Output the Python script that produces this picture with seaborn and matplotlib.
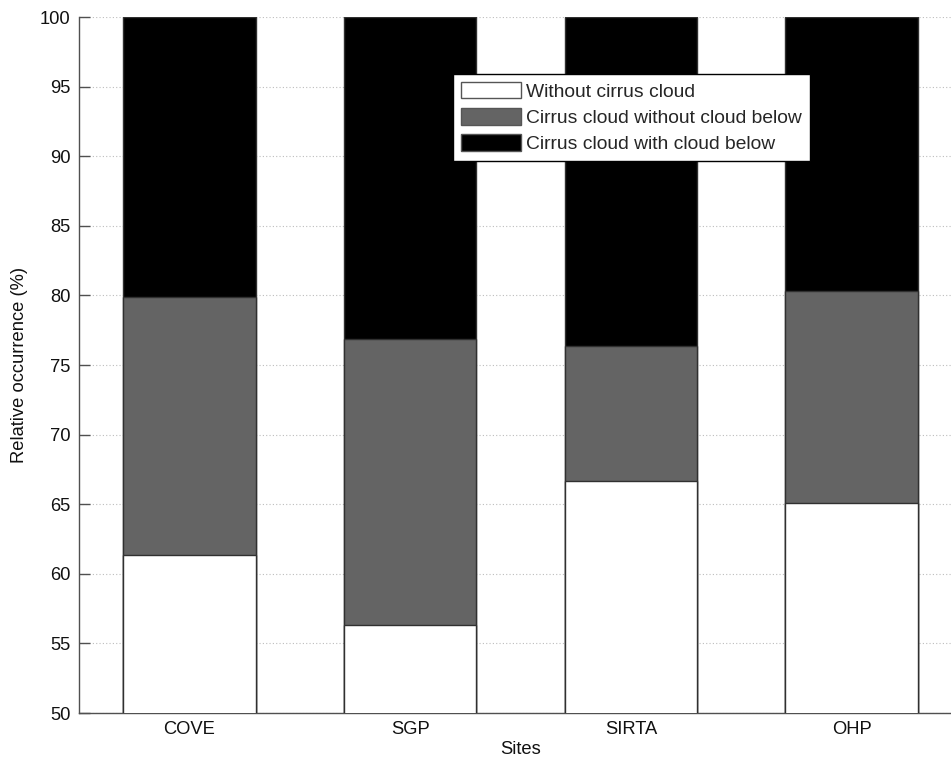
import matplotlib
matplotlib.use("Agg")
import matplotlib.pyplot as plt
import pandas as pd
import seaborn as sns

# values (%)
sites = ["COVE", "SGP", "SIRTA", "OHP"]
without_cirrus = [61.35, 56.3, 66.7, 65.1]
cirrus_no_below = [18.55, 20.55, 9.7, 15.2]
cirrus_with_below = [20.1, 23.15, 23.6, 19.7]

df = pd.DataFrame({
    "site": sites,
    "white": without_cirrus,
    "gray": cirrus_no_below,
    "black": cirrus_with_below,
})
df["lvl1"] = df["white"]
df["lvl2"] = df["white"] + df["gray"]
df["lvl3"] = df["lvl2"] + df["black"]

sns.set_theme(style="white")
plt.rcParams["font.family"] = ["Liberation Sans", "DejaVu Sans"]

fig = plt.figure(figsize=(9.51, 7.65), dpi=100)
ax = fig.add_axes([79 / 951, 52 / 765, 883 / 951, 696 / 765])

edge = "#303030"
fs = 13.2
sns.barplot(data=df, x="site", y="lvl3", color="black", width=0.6, ax=ax,
            edgecolor=edge, linewidth=1, saturation=1,
            label="Cirrus cloud with cloud below")
sns.barplot(data=df, x="site", y="lvl2", color="#646464", width=0.6, ax=ax,
            edgecolor=edge, linewidth=1, saturation=1,
            label="Cirrus cloud without cloud below")
sns.barplot(data=df, x="site", y="lvl1", color="white", width=0.6, ax=ax,
            edgecolor=edge, linewidth=1, saturation=1,
            label="Without cirrus cloud")
# bars sit on top of the bottom axis line, like the original
for p in ax.patches:
    p.set_zorder(3)

ax.set_ylim(50, 100)
ax.set_xlim(-0.5, 3.5)
ax.set_yticks(range(50, 101, 5))
ax.yaxis.grid(True, linestyle=(0, (1, 2)), color="#bdbdbd", linewidth=0.8)
ax.set_axisbelow(True)

for s in ["top", "right"]:
    ax.spines[s].set_visible(False)
for s in ["left", "bottom"]:
    ax.spines[s].set_color("#505050")
    ax.spines[s].set_linewidth(1)
    ax.spines[s].set_zorder(2)

ax.tick_params(axis="both", direction="in", length=8, width=1, color="#505050",
               labelsize=fs, labelcolor="#111111", left=True, bottom=True, pad=6)
ax.set_xlabel("Sites", fontsize=fs, color="#111111", labelpad=2)
ax.set_ylabel("Relative occurrence (%)", fontsize=fs, color="#111111", labelpad=9)

handles, labels = ax.get_legend_handles_labels()
leg = ax.legend(handles[::-1], labels[::-1], loc="upper left",
                bbox_to_anchor=(453 / 951, 1 - 74 / 765), bbox_transform=fig.transFigure,
                fontsize=13.9, frameon=True, fancybox=False, framealpha=1,
                edgecolor="black", borderaxespad=0, handlelength=3.1,
                handleheight=0.95, handletextpad=0.3, labelspacing=0.38,
                borderpad=0.4)
leg.get_frame().set_linewidth(1)
leg.set_zorder(5)
for h in leg.legend_handles:
    h.set_edgecolor("#555555")

fig.savefig("out.png", dpi=100)
